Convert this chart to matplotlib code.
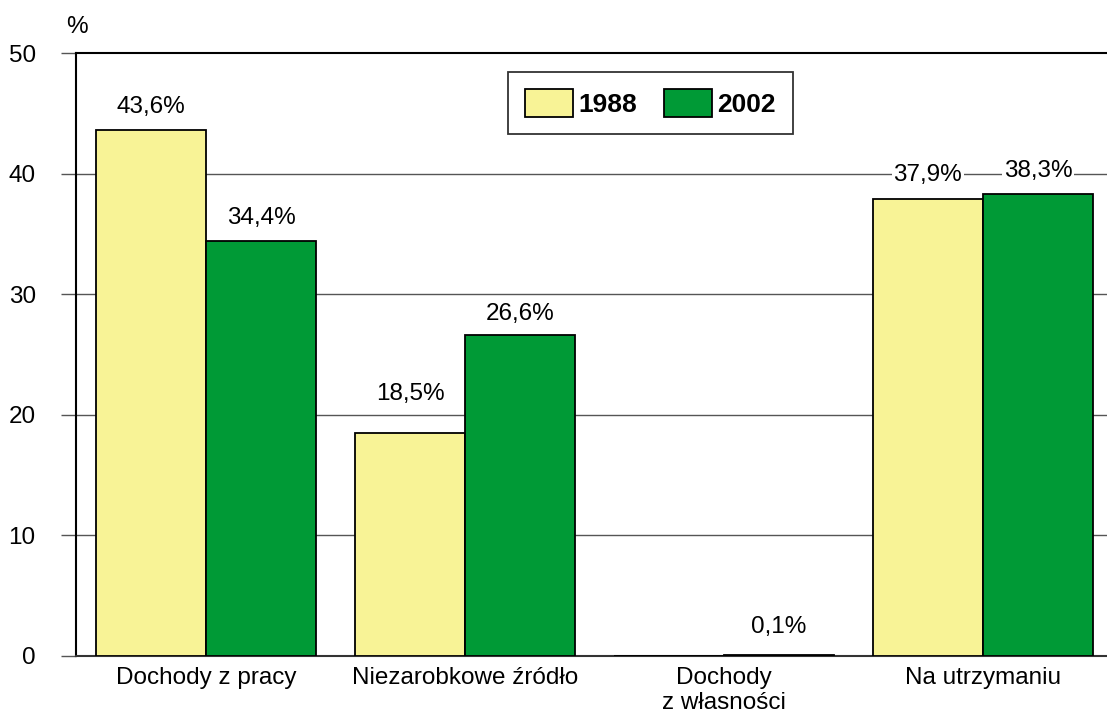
import matplotlib
matplotlib.use("Agg")
import matplotlib.pyplot as plt
import numpy as np

categories = ["Dochody z pracy", "Niezarobkowe źródło", "Dochody\nz własności", "Na utrzymaniu"]
series_names = ["1988", "2002"]
values_1988 = [43.6, 18.5, 0.0, 37.9]
values_2002 = [34.4, 26.6, 0.1, 38.3]
labels_1988 = ["43,6%", "18,5%", "", "37,9%"]
labels_2002 = ["34,4%", "26,6%", "0,1%", "38,3%"]
yticks = [0, 10, 20, 30, 40, 50]

plt.rcParams['font.family'] = ['Liberation Sans', 'DejaVu Sans']
FS = 17.5

fig = plt.figure(figsize=(11.07, 7.15), dpi=100)
ax = fig.add_axes([76/1107, 1-656/715, 1-76/1107, (656-53)/715])

x = np.arange(len(categories))
w = 0.425
yellow = "#F8F396"
green = "#009A36"

b1 = ax.bar(x - w/2, values_1988, w, color=yellow, edgecolor="black", linewidth=1.3, label=series_names[0], zorder=3)
b2 = ax.bar(x + w/2, values_2002, w, color=green, edgecolor="black", linewidth=1.3, label=series_names[1], zorder=3)

off_1988 = [9, 20, 9, 9]
off_2002 = [9, 7, 12, 9]
for xi, v, t, o in zip(x - w/2, values_1988, labels_1988, off_1988):
    if t:
        ax.annotate(t, (xi, v), xytext=(0, o), textcoords="offset points", ha="center", va="bottom",
                    fontsize=FS, zorder=4, bbox=dict(facecolor="white", edgecolor="none", pad=1))
for xi, v, t, o in zip(x + w/2, values_2002, labels_2002, off_2002):
    if t:
        ax.annotate(t, (xi, v), xytext=(0, o), textcoords="offset points", ha="center", va="bottom",
                    fontsize=FS, zorder=4, bbox=dict(facecolor="white", edgecolor="none", pad=1))

ax.set_xlim(-0.502, 3.479)
ax.set_ylim(0, 50)
ax.set_yticks(yticks)
ax.set_yticklabels([str(t) for t in yticks], fontsize=FS)
ax.tick_params(axis="y", direction="out", length=11, width=1, color="#555555", pad=18)
ax.set_xticks(x)
ax.set_xticklabels(categories, fontsize=FS, linespacing=1.15)
ax.tick_params(axis="x", length=0, pad=8)

for t in [10, 20, 30, 40]:
    ax.axhline(t, color="#555555", linewidth=1, zorder=1)

for s in ["top", "left", "bottom"]:
    ax.spines[s].set_linewidth(1.5)
    ax.spines[s].set_color("black")
ax.spines["right"].set_visible(False)
ax.spines["bottom"].set_color("#333333")

leg = ax.legend(loc="upper left", bbox_to_anchor=((508-76)/1031, 1-(72-53)/603), ncol=2,
                prop={"weight": "bold", "size": 19}, frameon=True, fancybox=False,
                handlelength=1.8, handleheight=1.25, columnspacing=1.05, borderpad=0.65,
                handletextpad=0.2, borderaxespad=0)
leg.get_frame().set_edgecolor("black")
leg.get_frame().set_linewidth(1.3)

fig.text(66/1107, 1-27/715, "%", fontsize=FS, ha="left", va="center")

fig.savefig("out.png", dpi=100)
